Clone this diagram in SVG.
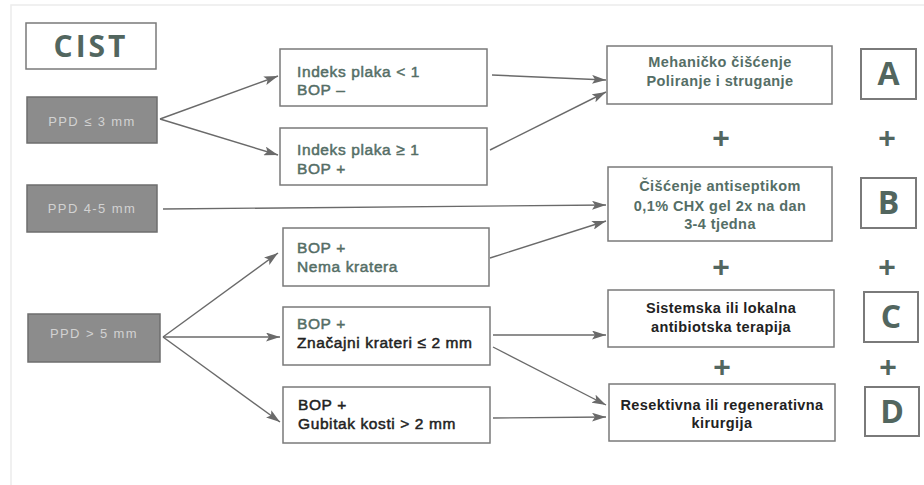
<svg xmlns="http://www.w3.org/2000/svg" width="924" height="485" viewBox="0 0 924 485">
<defs>
<marker id="ah" markerUnits="userSpaceOnUse" markerWidth="15" markerHeight="9" refX="14" refY="4.5" orient="auto">
<path d="M0,0 L14,4.5 L0,9 L3,4.5 z" fill="#6a6a6a"/>
</marker>
<style>
.box{fill:#fff;stroke:#7a7a7a;stroke-width:1.5}
.ppd{fill:#8c8c8c;stroke:#6e6e6e;stroke-width:1.5}
.let{fill:#fff;stroke:#7a7a7a;stroke-width:2}
.pt{font-family:"Liberation Sans",Arial,sans-serif;font-size:13px;letter-spacing:1.4px;fill:#d2d2d2;text-anchor:middle}
.mt{font-family:"Liberation Sans",Arial,sans-serif;font-size:15.5px;letter-spacing:0.6px;stroke-width:0.5}
.rt{font-family:"Liberation Sans",Arial,sans-serif;font-size:14.5px;font-weight:bold;letter-spacing:0.4px;text-anchor:middle}
.g{fill:#556e66;stroke:#556e66}
.k{fill:#222;stroke:#222}
.rt.g,.rt.k{stroke:none}
.big{font-family:"Open Sans","Liberation Sans",sans-serif;font-weight:bold;fill:#52665f;text-anchor:middle}
.plus{font-family:"Liberation Sans",Arial,sans-serif;font-weight:bold;font-size:30px;fill:#52665f;text-anchor:middle}
.con{stroke:#6a6a6a;stroke-width:1.4;fill:none;marker-end:url(#ah)}
</style>
</defs>
<rect x="0" y="0" width="924" height="485" fill="#fff"/>
<path d="M11,485 L11,5 L924,5" fill="none" stroke="#ececec" stroke-width="1.5"/>

<g id="cist">
<rect class="box" x="26" y="23" width="130" height="46"/>
<text class="big" x="91" y="57" font-size="30" letter-spacing="3">CIST</text>
</g>

<g id="ppd3">
<rect class="ppd" x="27" y="97" width="130" height="46"/>
<text class="pt" x="92" y="126">PPD ≤ 3 mm</text>
</g>
<g id="ppd45">
<rect class="ppd" x="27" y="185" width="130" height="47"/>
<text class="pt" x="92" y="213">PPD 4-5 mm</text>
</g>
<g id="ppd5">
<rect class="ppd" x="28" y="314" width="132" height="48"/>
<text class="pt" x="94" y="338">PPD &gt; 5 mm</text>
</g>

<g id="m1">
<rect class="box" x="280" y="49" width="207" height="57"/>
<text class="mt g" x="297" y="77">Indeks plaka &lt; 1</text>
<text class="mt g" x="297" y="95">BOP –</text>
</g>
<g id="m2">
<rect class="box" x="280" y="128" width="207" height="57"/>
<text class="mt g" x="297" y="155">Indeks plaka ≥ 1</text>
<text class="mt g" x="297" y="174">BOP +</text>
</g>
<g id="m3">
<rect class="box" x="283" y="228" width="206" height="58"/>
<text class="mt g" x="297" y="253">BOP +</text>
<text class="mt g" x="297" y="272">Nema kratera</text>
</g>
<g id="m4">
<rect class="box" x="283" y="307" width="207" height="58"/>
<text class="mt g" x="297" y="329">BOP +</text>
<text class="mt k" x="297" y="348">Značajni krateri ≤ 2 mm</text>
</g>
<g id="m5">
<rect class="box" x="283" y="387" width="207" height="56"/>
<text class="mt k" x="298" y="410">BOP +</text>
<text class="mt k" x="298" y="429">Gubitak kosti &gt; 2 mm</text>
</g>

<g id="tA">
<rect class="box" x="607" y="46" width="225" height="58"/>
<text class="rt g" x="720" y="67">Mehaničko čišćenje</text>
<text class="rt g" x="720" y="86">Poliranje i struganje</text>
</g>
<g id="tB">
<rect class="box" x="608" y="167" width="224" height="74"/>
<text class="rt g" x="720" y="191">Čišćenje antiseptikom</text>
<text class="rt g" x="720" y="211">0,1% CHX gel 2x na dan</text>
<text class="rt g" x="720" y="229">3-4 tjedna</text>
</g>
<g id="tC">
<rect class="box" x="608" y="290" width="226" height="57"/>
<text class="rt k" x="721" y="313">Sistemska ili lokalna</text>
<text class="rt k" x="721" y="332">antibiotska terapija</text>
</g>
<g id="tD">
<rect class="box" x="609" y="384" width="226" height="57"/>
<text class="rt k" x="722" y="410">Resektivna ili regenerativna</text>
<text class="rt k" x="722" y="428">kirurgija</text>
</g>

<g id="lA">
<rect class="let" x="861" y="49" width="55" height="50"/>
<text class="big" x="888.5" y="85" font-size="32">A</text>
</g>
<g id="lB">
<rect class="let" x="861" y="178" width="55" height="50"/>
<text class="big" x="888.5" y="214" font-size="32">B</text>
</g>
<g id="lC">
<rect class="let" x="864" y="292" width="54" height="50"/>
<text class="big" x="891" y="328" font-size="32">C</text>
</g>
<g id="lD">
<rect class="let" x="865" y="387" width="54" height="49"/>
<text class="big" x="892" y="423" font-size="32">D</text>
</g>

<g id="plus">
<text class="plus" x="721" y="148">+</text>
<text class="plus" x="887" y="148">+</text>
<text class="plus" x="721" y="277">+</text>
<text class="plus" x="887" y="277">+</text>
<text class="plus" x="722" y="377">+</text>
<text class="plus" x="888" y="377">+</text>
</g>

<g id="connectors">
<line class="con" x1="160" y1="119" x2="278" y2="76"/>
<line class="con" x1="160" y1="119" x2="278" y2="155"/>
<line class="con" x1="163" y1="209" x2="606" y2="205"/>
<line class="con" x1="492" y1="75" x2="606" y2="80"/>
<line class="con" x1="490" y1="150" x2="606" y2="92"/>
<line class="con" x1="490" y1="258" x2="606" y2="221"/>
<line class="con" x1="163" y1="337" x2="278" y2="253"/>
<line class="con" x1="163" y1="337" x2="280" y2="337"/>
<line class="con" x1="163" y1="337" x2="280" y2="422"/>
<line class="con" x1="493" y1="335" x2="606" y2="335"/>
<line class="con" x1="493" y1="347" x2="606" y2="405"/>
<line class="con" x1="493" y1="418" x2="606" y2="417"/>
</g>
</svg>
